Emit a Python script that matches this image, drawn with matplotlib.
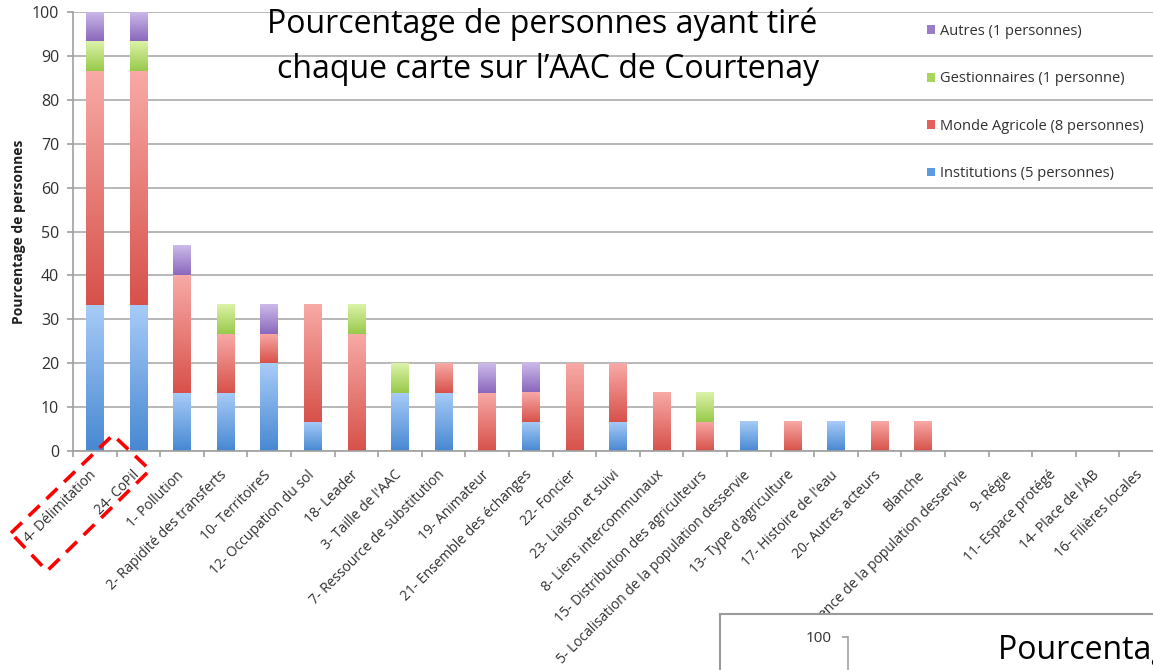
import numpy as np
import matplotlib
matplotlib.use('Agg')
import matplotlib.pyplot as plt
from matplotlib.patches import Patch, Polygon
from matplotlib.colors import LinearSegmentedColormap
from matplotlib.ticker import FixedLocator, NullFormatter
from matplotlib.transforms import ScaledTranslation

categories = [
    "4- Délimitation", "24- CoPil", "1- Pollution", "2- Rapidité des transferts",
    "10- TerritoireS", "12- Occupation du sol", "18- Leader", "3- Taille de l'AAC",
    "7- Ressource de substitution", "19- Animateur", "21- Ensemble des échanges",
    "22- Foncier", "23- Liaison et suivi", "8- Liens intercommunaux",
    "15- Distribution des agriculteurs", "5- Localisation de la population desservie",
    "13- Type d'agriculture", "17- Histoire de l'eau", "20- Autres acteurs", "Blanche",
    "6- Exigence de la population desservie", "9- Régie", "11- Espace protégé",
    "14- Place de l'AB", "16- Filières locales",
]
institutions = [33.3, 33.3, 13.3, 13.3, 20.0, 6.7, 0, 13.3, 13.3, 0, 6.7, 0, 6.7,
                0, 0, 6.7, 0, 6.7, 0, 0, 0, 0, 0, 0, 0]
monde_agricole = [53.3, 53.3, 26.7, 13.3, 6.7, 26.7, 26.7, 0, 6.7, 13.3, 6.7, 20.0, 13.3,
                  13.3, 6.7, 0, 6.7, 0, 6.7, 6.7, 0, 0, 0, 0, 0]
gestionnaires = [6.7, 6.7, 0, 6.7, 0, 0, 6.7, 6.7, 0, 0, 0, 0, 0,
                 0, 6.7, 0, 0, 0, 0, 0, 0, 0, 0, 0, 0]
autres = [6.7, 6.7, 6.7, 0, 6.7, 0, 0, 0, 0, 6.7, 6.7, 0, 0,
          0, 0, 0, 0, 0, 0, 0, 0, 0, 0, 0, 0]
series_labels = ["Institutions (5 personnes)", "Monde Agricole (8 personnes)",
                 "Gestionnaires (1 personne)", "Autres (1 personnes)"]
yticks = [0, 10, 20, 30, 40, 50, 60, 70, 80, 90, 100]
title_lines = ["Pourcentage de personnes ayant tiré", "chaque carte sur l’AAC de Courtenay"]
ylabel = "Pourcentage de personnes"

# (top colour, bottom colour) for each series gradient
grad_colors = [("#a8ccf8", "#4788d2"), ("#f8aaa6", "#d7514a"),
               ("#dcf3a8", "#98c94a"), ("#cdbbea", "#8a67bc")]
legend_colors = ["#5b9be0", "#e5605a", "#a8d65c", "#9b7cc8"]

plt.rcParams['font.family'] = ['Open Sans', 'DejaVu Sans']
W, H = 1153, 670
fig = plt.figure(figsize=(W / 100, H / 100), dpi=100)
fig.patch.set_facecolor('white')

ax_left = 73 / W
ax_bottom = (H - 451) / H
ax_width = 25 * 43.6 / W
ax_height = (451 - 12) / H
ax = fig.add_axes([ax_left, ax_bottom, ax_width, ax_height])

x = np.arange(len(categories))
series = [institutions, monde_agricole, gestionnaires, autres]
bottom = np.zeros(len(categories))
containers = []
for vals in series:
    v = np.array(vals, dtype=float)
    c = ax.bar(x, v, bottom=bottom, width=0.4, zorder=2)
    containers.append(c)
    bottom += v

grad = np.linspace(0, 1, 256).reshape(-1, 1)
for c, (top, bot) in zip(containers, grad_colors):
    cmap = LinearSegmentedColormap.from_list('g', [bot, top])
    for b in c:
        h = b.get_height()
        b.set_visible(False)
        if h <= 0:
            continue
        x0, w, y0 = b.get_x(), b.get_width(), b.get_y()
        ax.imshow(grad, extent=(x0, x0 + w, y0, y0 + h), origin='lower', cmap=cmap,
                  aspect='auto', zorder=2, interpolation='bilinear')

ax.set_xlim(-0.5, len(categories) - 0.5)
ax.set_ylim(0, 100)
ax.set_yticks(yticks)
ax.yaxis.grid(True, color='#b8b8b8', linewidth=1.4, zorder=0)
ax.set_axisbelow(True)
for s in ['top', 'right']:
    ax.spines[s].set_visible(False)
for s in ['left', 'bottom']:
    ax.spines[s].set_color('#a0a0a0')
    ax.spines[s].set_linewidth(1.2)

ax.set_xticks(x)
ax.set_xticklabels(categories, rotation=45, ha='right', rotation_mode='anchor',
                   fontsize=10, color='#303030')
ax.tick_params(axis='x', which='major', length=0, pad=12)
ax.xaxis.set_minor_locator(FixedLocator(np.arange(-0.5, len(categories), 1.0)))
ax.xaxis.set_minor_formatter(NullFormatter())
ax.tick_params(axis='x', which='minor', length=4, color='#a0a0a0', width=1.2)
ax.tick_params(axis='y', length=4, color='#a0a0a0', width=1.2, labelsize=11.5,
               labelcolor='#303030', pad=6)
ax.set_ylabel(ylabel, fontsize=10, fontweight='bold', color='#202020', labelpad=4)
shift = ScaledTranslation(-0.06, 0, fig.dpi_scale_trans)
for lbl in ax.get_xticklabels():
    lbl.set_transform(lbl.get_transform() + shift)

# title
fig.text(542 / W, 1 - 24 / H, title_lines[0], fontsize=23, ha='center', va='center',
         color='black')
fig.text(548 / W, 1 - 70 / H, title_lines[1], fontsize=23, ha='center', va='center',
         color='black')

# legend (reversed order, no frame)
handles = [Patch(facecolor=col, edgecolor='none') for col in legend_colors]
leg = ax.legend(handles[::-1], series_labels[::-1], loc='upper left',
                bbox_to_anchor=(927 / W, 1 - 24 / H), bbox_transform=fig.transFigure,
                frameon=False, fontsize=10.5, handlelength=0.55, handleheight=0.55,
                handletextpad=0.35, labelspacing=2.22, borderpad=0, borderaxespad=0)
for t in leg.get_texts():
    t.set_color('#303030')

# red dashed highlight around the first two labels
corners_px = [(11, 533), (113, 435), (150, 470), (47, 571)]
poly = Polygon([(px / W, 1 - py / H) for px, py in corners_px], closed=True,
               transform=fig.transFigure, fill=False, edgecolor='#ff0000',
               linewidth=2.6, linestyle=(0, (4.2, 2.6)), zorder=10)
fig.patches.append(poly)

# cropped second chart at bottom right
inset = fig.add_axes([720 / W, -0.2, 0.5, (H - 614) / H + 0.2])
inset.set_facecolor('white')
inset.set_xticks([])
inset.set_yticks([])
for s in inset.spines.values():
    s.set_color('#9a9a9a')
    s.set_linewidth(1.5)
inner = fig.add_axes([848 / W, -0.3, 0.4, (H - 637) / H + 0.3])
inner.set_facecolor('white')
inner.set_ylim(-300, 100)
inner.set_yticks([100])
inner.set_yticklabels(['100'])
inner.tick_params(axis='y', length=4, color='#a0a0a0', width=1.2, labelsize=11,
                  labelcolor='#303030', pad=8)
inner.set_xticks([])
for s in ['top', 'right', 'bottom']:
    inner.spines[s].set_visible(False)
inner.spines['left'].set_color('#a0a0a0')
inner.spines['left'].set_linewidth(1.2)
fig.text(998 / W, 1 - 659 / H, title_lines[0], fontsize=23, ha='left', va='baseline',
         color='black', zorder=20)

fig.savefig('out.png', dpi=100)
